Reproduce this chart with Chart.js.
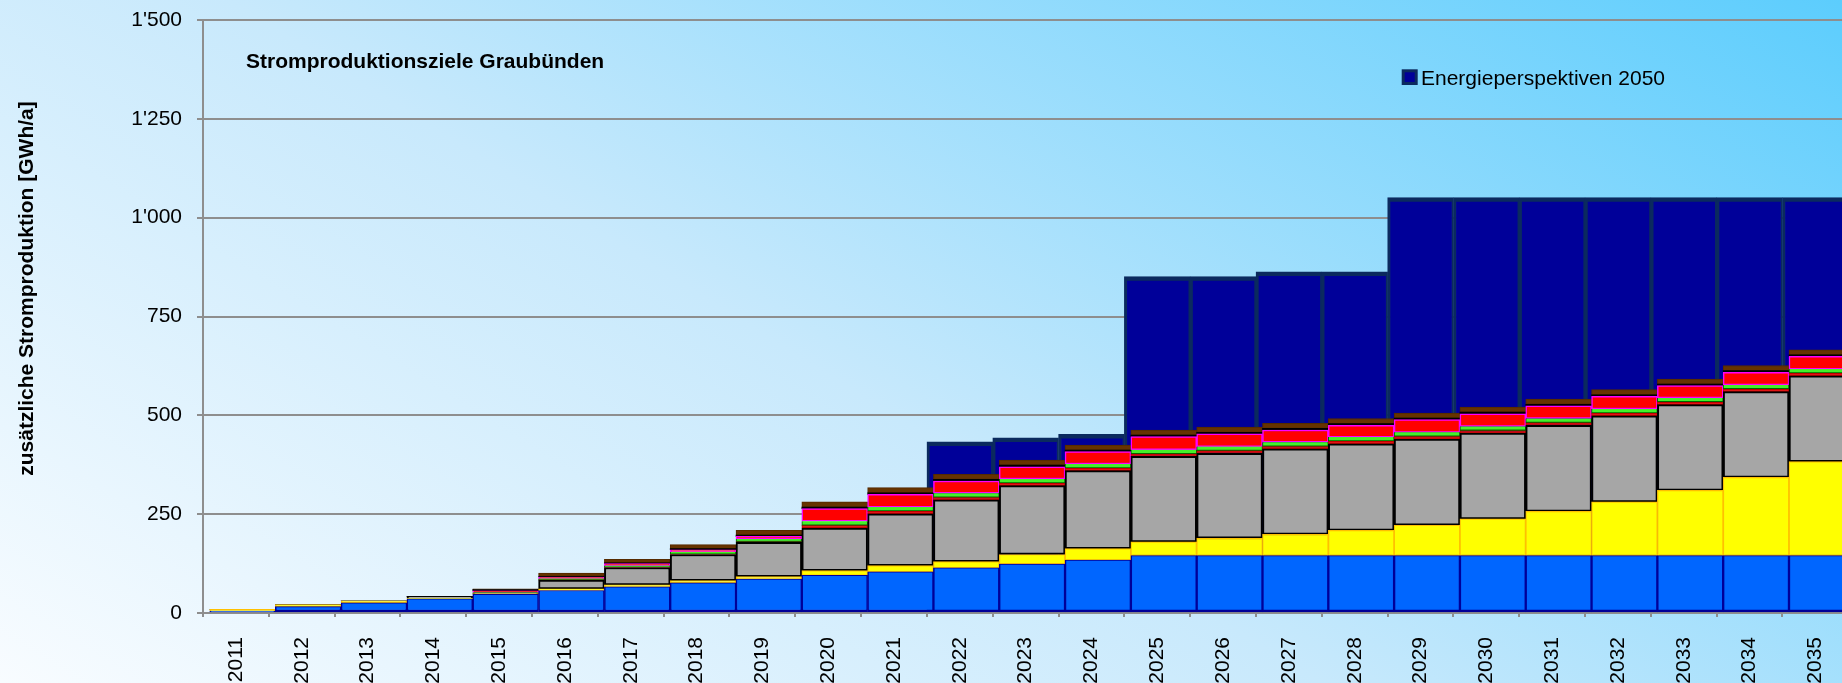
<!DOCTYPE html>
<html lang="de">
<head>
<meta charset="utf-8">
<title>Stromproduktionsziele Graubünden</title>
<script src="https://cdn.jsdelivr.net/npm/chart.js@4.4.1/dist/chart.umd.min.js"></script>
<style>
    html, body { margin: 0; padding: 0; overflow: hidden; }
    #frame {
        position: relative; width: 1842px; height: 683px; overflow: hidden;
        background: linear-gradient(32deg, #f8fcff 0%, #c8e9fc 45%, #5ccdfd 100%);
    }
    #chart { position: absolute; left: 0; top: 0; }
</style>
</head>
<body>
<div id="frame"><canvas id="chart" width="1850" height="700"></canvas></div>
<script>
const chartTitle = "Stromproduktionsziele Graubünden";
const yAxisTitle = "zusätzliche Stromproduktion [GWh/a]";
const perspectiveLabel = "Energieperspektiven 2050";

const years = ["2011", "2012", "2013", "2014", "2015", "2016", "2017", "2018", "2019", "2020",
    "2021", "2022", "2023", "2024", "2025", "2026", "2027", "2028", "2029", "2030",
    "2031", "2032", "2033", "2034", "2035"];
const yTicks = [0, 250, 500, 750, 1000, 1250, 1500];

// stacked layers, bottom to top (GWh/a)
const blueLayer = [5, 16, 26, 36, 47, 57, 66, 76, 86, 95, 104, 114, 124, 134, 145, 145, 145, 145, 145, 145, 145, 145, 145, 145, 145];
const yellowLayer = [4, 5, 5, 2, 2, 4, 5, 6, 6, 12, 16, 16, 24, 29, 35, 44, 54, 64, 77, 93, 112, 136, 165, 198, 238];
const grayLayer = [0, 0, 0, 3, 2, 22, 44, 66, 87, 108, 131, 156, 174, 197, 216, 215, 216, 219, 218, 217, 218, 218, 217, 217, 217];
const darkRedLayer = [0, 0, 0, 0, 0, 1, 1, 1, 1, 6, 6, 6, 6, 6, 6, 6, 6, 6, 6, 6, 6, 6, 6, 6, 6];
const greenLayer = [0, 0, 0, 0, 1, 3, 4, 5, 7, 11, 11, 11, 11, 11, 11, 11, 11, 11, 11, 11, 11, 11, 11, 11, 11];
const redLayer = [0, 0, 0, 0, 4, 4, 5, 6, 7, 32, 32, 31, 31, 31, 33, 32, 31, 30, 32, 32, 32, 32, 31, 32, 32];
const blackLayer = [0, 0, 0, 1, 3, 2, 2, 3, 3, 4, 4, 4, 4, 4, 4, 4, 4, 4, 4, 4, 4, 4, 4, 4, 4];
const brownLayer = [0, 0, 0, 0, 2, 8, 9, 10, 12, 13, 13, 13, 13, 13, 13, 13, 13, 13, 13, 13, 13, 13, 13, 13, 13];

// background bars
const perspective = [null, null, null, null, null, null, null, null, null, null, null,
    433, 443, 452, 851, 851, 863, 863, 1051, 1051, 1051, 1051, 1051, 1051, 1051];

const family = '"Liberation Sans", Arial, sans-serif';
const gridGray = "#8e8e8e";
const navyFill = "#000099";
const navyEdge = "#0b2a5e";
// Excel drew the stacked series a few pixels right of the category slots
const layerShift = 6.5;

const thousands = v => String(v).replace(/\B(?=(\d{3})+(?!\d))/g, "'");

const layer = (label, values, fill, border, width) => ({
    label: label,
    data: values,
    stack: "ziele",
    order: 1,
    backgroundColor: fill,
    borderColor: border,
    borderWidth: width,
    borderSkipped: false,
    barPercentage: 1,
    categoryPercentage: 1,
});

const shiftLayers = {
    id: "shiftLayers",
    beforeDatasetDraw(chart, args) {
        if (chart.data.datasets[args.index].stack === "ziele") {
            chart.ctx.save();
            chart.ctx.translate(layerShift, 0);
        }
    },
    afterDatasetDraw(chart, args) {
        if (chart.data.datasets[args.index].stack === "ziele") chart.ctx.restore();
    }
};

const overlayText = {
    id: "overlayText",
    afterDraw(chart) {
        const {ctx, chartArea} = chart;
        ctx.save();
        ctx.fillStyle = "#000";
        ctx.font = `bold 21px ${family}`;
        ctx.fillText(chartTitle, chartArea.left + 43, chartArea.top + 47.5);

        ctx.fillStyle = navyFill;
        ctx.strokeStyle = navyEdge;
        ctx.lineWidth = 3;
        ctx.fillRect(1403.2, 70.8, 13, 12.7);
        ctx.strokeRect(1403.2, 70.8, 13, 12.7);
        ctx.fillStyle = "#000";
        ctx.font = `21px ${family}`;
        ctx.fillText(perspectiveLabel, 1421, 85);

        ctx.translate(33, 288.5);
        ctx.rotate(-Math.PI / 2);
        ctx.textAlign = "center";
        ctx.font = `bold 21px ${family}`;
        ctx.fillText(yAxisTitle, 0, 0);
        ctx.restore();
    }
};

new Chart(document.getElementById("chart"), {
    type: "bar",
    data: {
        labels: years,
        datasets: [
            layer("blau", blueLayer, "#0066ff", "#000099", {top: 1, left: 1.5, right: 1.5, bottom: 2.5}),
            layer("gelb", yellowLayer, "#ffff00", "#ffc000", 1.2),
            layer("grau", grayLayer, "#a6a6a6", "#000000", 2),
            layer("dunkelrot", darkRedLayer, "#e01515", "#c00000", 1),
            layer("grün", greenLayer, "#44f02a", "#006600", {top: 0, left: 1, right: 1, bottom: 1.5}),
            layer("rot", redLayer, "#ff0000", "#ff00ff", 1.5),
            layer("schwarz", blackLayer, "#000000", "#000000", 0),
            layer("braun", brownLayer, "#663300", "#552a00", 1),
            {
                label: perspectiveLabel,
                data: perspective,
                stack: "perspektiven",
                grouped: false,
                order: 2,
                backgroundColor: navyFill,
                borderColor: navyEdge,
                borderWidth: {top: 4.5, left: 3, right: 2, bottom: 0},
                borderSkipped: false,
                barPercentage: 1,
                categoryPercentage: 1,
            },
        ],
    },
    options: {
        responsive: false,
        animation: false,
        layout: {padding: {top: 20, right: 1.7, bottom: 0, left: 0}},
        plugins: {
            legend: {display: false},
            tooltip: {enabled: false},
        },
        scales: {
            x: {
                type: "category",
                offset: true,
                grid: {offset: true, drawOnChartArea: false, tickLength: 4, color: gridGray, lineWidth: 2},
                border: {color: gridGray, width: 2},
                ticks: {
                    minRotation: 90, maxRotation: 90, autoSkip: false, padding: 20,
                    color: "#000", font: {family: family, size: 21},
                },
                afterFit: s => { s.height = 87; s.paddingLeft = 0; s.paddingRight = 0; },
            },
            y: {
                stacked: true,
                min: yTicks[0],
                max: yTicks[yTicks.length - 1],
                afterBuildTicks: s => { s.ticks = yTicks.map(v => ({value: v})); },
                ticks: {padding: 15, color: "#000", font: {family: family, size: 21}, callback: thousands},
                grid: {color: gridGray, lineWidth: 2, tickLength: 6},
                border: {color: gridGray, width: 2},
                afterFit: s => { s.width = 203; s.paddingTop = 0; s.paddingBottom = 0; },
            },
        },
    },
    plugins: [shiftLayers, overlayText],
});
</script>
</body>
</html>
